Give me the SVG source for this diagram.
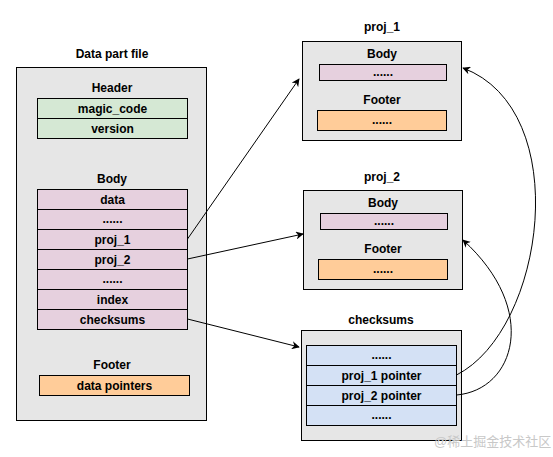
<svg xmlns="http://www.w3.org/2000/svg" width="553" height="457" viewBox="0 0 553 457">
<defs>
<marker id="arr" viewBox="0 0 10 10" refX="9" refY="5" markerWidth="8" markerHeight="8" markerUnits="userSpaceOnUse" orient="auto">
<path d="M0,0 L10,5 L0,10 L3,5 Z" fill="#000"/>
</marker>
</defs>
<style>
text{font-family:"Liberation Sans",Arial,sans-serif;font-size:12px;font-weight:bold;fill:#000;text-anchor:middle}
.box{fill:#e6e6e6;stroke:#000;stroke-width:1}
.g{fill:#d5e8d4;stroke:#000;stroke-width:1}
.p{fill:#e6d0de;stroke:#000;stroke-width:1}
.o{fill:#ffcc99;stroke:#000;stroke-width:1}
.b{fill:#d4e1f5;stroke:#000;stroke-width:1}
.c{fill:none;stroke:#000;stroke-width:1;marker-end:url(#arr)}
.wm{font-family:"Liberation Sans","Noto Sans CJK SC",sans-serif;font-size:13px;font-weight:normal;fill:#c8c8c8;text-anchor:start}
</style>
<rect width="553" height="457" fill="#fff"/>

<g id="datafile">
<text x="112" y="58">Data part file</text>
<rect class="box" x="16.5" y="67.5" width="190" height="353"/>
<text x="112" y="92">Header</text>
<rect class="g" x="37.5" y="98.5" width="150" height="20"/>
<text x="112.5" y="113">magic_code</text>
<rect class="g" x="37.5" y="118.5" width="150" height="20"/>
<text x="112.5" y="133">version</text>
<text x="112" y="183">Body</text>
<rect class="p" x="37.5" y="189.5" width="150" height="20"/>
<text x="112.5" y="204">data</text>
<rect class="p" x="37.5" y="209.5" width="150" height="20"/>
<text x="112.5" y="223">......</text>
<rect class="p" x="37.5" y="229.5" width="150" height="20"/>
<text x="112.5" y="244">proj_1</text>
<rect class="p" x="37.5" y="249.5" width="150" height="20"/>
<text x="112.5" y="264">proj_2</text>
<rect class="p" x="37.5" y="269.5" width="150" height="20"/>
<text x="112.5" y="283">......</text>
<rect class="p" x="37.5" y="289.5" width="150" height="20"/>
<text x="112.5" y="304">index</text>
<rect class="p" x="37.5" y="309.5" width="150" height="20"/>
<text x="112.5" y="324">checksums</text>
<text x="112" y="369">Footer</text>
<rect class="o" x="39.5" y="375.5" width="150" height="20"/>
<text x="114.5" y="390">data pointers</text>
</g>

<g id="proj1">
<text x="382" y="31">proj_1</text>
<rect class="box" x="302.5" y="41.5" width="159" height="99"/>
<text x="382" y="58">Body</text>
<rect class="p" x="319.5" y="64.5" width="127" height="16"/>
<text x="383" y="76">......</text>
<text x="382" y="104">Footer</text>
<rect class="o" x="317.5" y="110.5" width="129" height="20"/>
<text x="382" y="124">......</text>
</g>

<g id="proj2">
<text x="382" y="181">proj_2</text>
<rect class="box" x="303.5" y="190.5" width="159" height="99"/>
<text x="383" y="207">Body</text>
<rect class="p" x="320.5" y="213.5" width="127" height="16"/>
<text x="384" y="225">......</text>
<text x="383" y="253">Footer</text>
<rect class="o" x="318.5" y="259.5" width="129" height="20"/>
<text x="383" y="273">......</text>
</g>

<g id="checksums">
<text x="381" y="324">checksums</text>
<rect class="box" x="301.5" y="330.5" width="160" height="110"/>
<rect class="b" x="306.5" y="345.5" width="150" height="20"/>
<text x="381.5" y="359">......</text>
<rect class="b" x="306.5" y="365.5" width="150" height="20"/>
<text x="381.5" y="380">proj_1 pointer</text>
<rect class="b" x="306.5" y="385.5" width="150" height="20"/>
<text x="381.5" y="400">proj_2 pointer</text>
<rect class="b" x="306.5" y="405.5" width="150" height="20"/>
<text x="381.5" y="419">......</text>
</g>

<g id="connectors">
<path class="c" d="M187.5,239 L299,79"/>
<path class="c" d="M187.5,259 L303,234"/>
<path class="c" d="M187.5,319 L299,347"/>
<path class="c" d="M456.5,375 C545,330 575,110 463,68"/>
<path class="c" d="M456.5,395 C515,390 540,310 463,240"/>
</g>

<text class="wm" x="434" y="446">@稀土掘金技术社区</text>
</svg>
